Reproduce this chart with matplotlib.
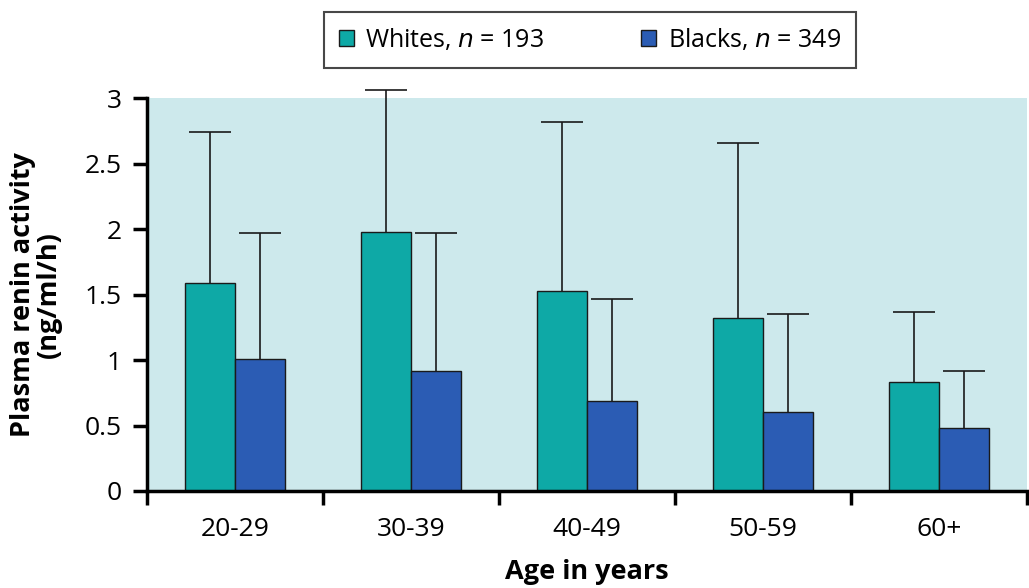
import numpy as np
import matplotlib.pyplot as plt

# Data
age_groups = ['20-29', '30-39', '40-49', '50-59', '60+']
whites_mean = [1.59, 1.98, 1.53, 1.32, 0.83]
whites_upper = [2.74, 3.06, 2.82, 2.66, 1.37]
blacks_mean = [1.01, 0.92, 0.69, 0.60, 0.48]
blacks_upper = [1.97, 1.97, 1.47, 1.35, 0.92]

plt.rcParams['font.family'] = ['Open Sans', 'DejaVu Sans']

fig = plt.figure(figsize=(10.29, 5.88), dpi=100)
ax = fig.add_axes([0.143, 0.165, 0.855, 0.668])
ax.set_facecolor('#cde9ec')

x = np.arange(len(age_groups))
w = 0.285
white_col = '#0ea9a6'
black_col = '#2b5cb4'

wx = x - w / 2
bx = x + w / 2
ax.bar(wx, whites_mean, w, color=white_col, edgecolor='#1a1a1a', linewidth=1, label='Whites, $n$ = 193', zorder=2)
ax.bar(bx, blacks_mean, w, color=black_col, edgecolor='#1a1a1a', linewidth=1, label='Blacks, $n$ = 349', zorder=2)

whites_err = np.array(whites_upper) - np.array(whites_mean)
blacks_err = np.array(blacks_upper) - np.array(blacks_mean)
for xs, m, e in [(wx, whites_mean, whites_err), (bx, blacks_mean, blacks_err)]:
    ebar = ax.errorbar(xs, m, yerr=[np.zeros(len(e)), e], fmt='none', ecolor='#1a1a1a',
                       elinewidth=1.2, capsize=15, capthick=1.2, zorder=3)
    caps = ebar.lines[1]
    caps[0].set_visible(False)  # no lower cap
    for art in list(caps) + list(ebar.lines[2]):
        art.set_clip_on(False)

ax.set_xlim(-0.5, len(age_groups) - 0.5)
ax.set_ylim(0, 3)
ax.set_yticks([0, 0.5, 1, 1.5, 2, 2.5, 3])
ax.set_yticklabels(['0', '0.5', '1', '1.5', '2', '2.5', '3'])
ax.set_xticks(np.arange(-0.5, len(age_groups), 1))
ax.set_xticklabels([])
ax.set_xticks(x, minor=True)
ax.set_xticklabels(age_groups, minor=True)
ax.tick_params(axis='x', which='minor', length=0, pad=19, labelsize=19)
ax.tick_params(axis='x', which='major', length=10, width=2.5, direction='out')
ax.tick_params(axis='y', length=10, width=2.5, direction='out', labelsize=19, pad=8)

for s in ['top', 'right']:
    ax.spines[s].set_visible(False)
for s in ['left', 'bottom']:
    ax.spines[s].set_linewidth(2.5)

ax.set_xlabel('Age in years', fontsize=19.5, fontweight='bold', labelpad=12)
ax.set_ylabel('Plasma renin activity\n(ng/ml/h)', fontsize=19.5, fontweight='bold', linespacing=1.0)
ax.yaxis.set_label_coords(-0.097, 0.5)

leg = fig.legend(loc='upper center', bbox_to_anchor=(0.573, 0.98), ncol=2, fontsize=18,
                 frameon=True, fancybox=False, edgecolor='#1a1a1a', handlelength=0.6,
                 handleheight=0.6, handletextpad=0.45, columnspacing=3.9, borderpad=0.6,
                 borderaxespad=0)
leg.get_frame().set_linewidth(1.5)

fig.savefig('out.png', dpi=100)
